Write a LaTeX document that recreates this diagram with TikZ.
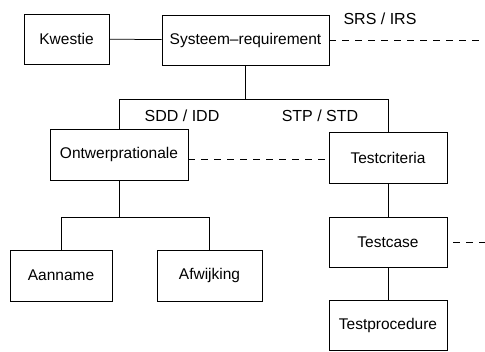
\documentclass[tikz,border=0pt]{standalone}
\usepackage{fontspec}
\setmainfont{Liberation Sans}
\begin{document}
\begin{tikzpicture}[x=1pt, y=-1pt, line width=0.75pt,
  box/.style={draw, rectangle, inner sep=0pt, font=\fontsize{15.5}{18}\selectfont},
  lbl/.style={font=\fontsize{16}{18}\selectfont}]
  \def\Xr{388};
  \def\Ybus{99};
  \def\Ybusb{217};
  \def\Ymid{159};
  \def\Xend{485};
  \useasboundingbox (0,0) rectangle (485,352);

	% boxes
	\node[box, minimum width=85pt, minimum height=50pt] (kw) at (66.5, 39) {Kwestie};
	\node[box, minimum width=167pt, minimum height=50pt] (sys) at (245.5, 40) {Systeem--requirement};
	\node[box, minimum width=138pt, minimum height=51pt] (ontw) at (119, 154.5) {Ontwerprationale};
	\node[box, minimum width=118pt, minimum height=51pt] (tcrit) at (\Xr, 157.5) {Testcriteria};
	\node[box, minimum width=102pt, minimum height=51pt] (aan) at (61, 275.5) {Aanname};
	\node[box, minimum width=105pt, minimum height=51pt] (afw) at (209.5, 275.5) {Afwijking};
	\node[box, minimum width=118pt, minimum height=50pt] (tcase) at (\Xr, 242) {Testcase};
	\node[box, minimum width=118pt, minimum height=50pt] (tproc) at (\Xr, 325) {Testprocedure};

	% lines
	\coordinate (bus) at (0, \Ybus);
	\coordinate (busb) at (0, \Ybusb);
	\draw (kw) -- (sys);
	\draw (sys.south) -- (sys.south |- bus);
	\draw (ontw.north) |- (bus -| tcrit.north) -- (tcrit.north);
	\draw (ontw.south) -- (ontw.south |- busb);
	\draw (aan.north) |- (busb -| afw.north) -- (afw.north);
	\draw (tcrit) -- (tcase);
	\draw (tcase) -- (tproc);

	% dashed
	\coordinate (mid) at (0, \Ymid);
	\coordinate (sysend) at (\Xend, 40);
	\coordinate (tcaseend) at (\Xend, 242);
	\draw [dash pattern=on 7pt off 6pt] (sys.east) -- (sysend);
	\draw [dash pattern=on 7pt off 6pt] (ontw.east |- mid) -- (tcrit.west |- mid);
	\draw [dash pattern=on 7pt off 6pt] ([xshift=6pt]tcase.east) -- (tcaseend);

	% labels
	\node[lbl] (srs) at (380, 19) {SRS / IRS};
	\node[lbl] (sdd) at (182, 116) {SDD / IDD};
	\node[lbl] (stp) at (320, 116) {STP / STD};

\end{tikzpicture}
\end{document}
